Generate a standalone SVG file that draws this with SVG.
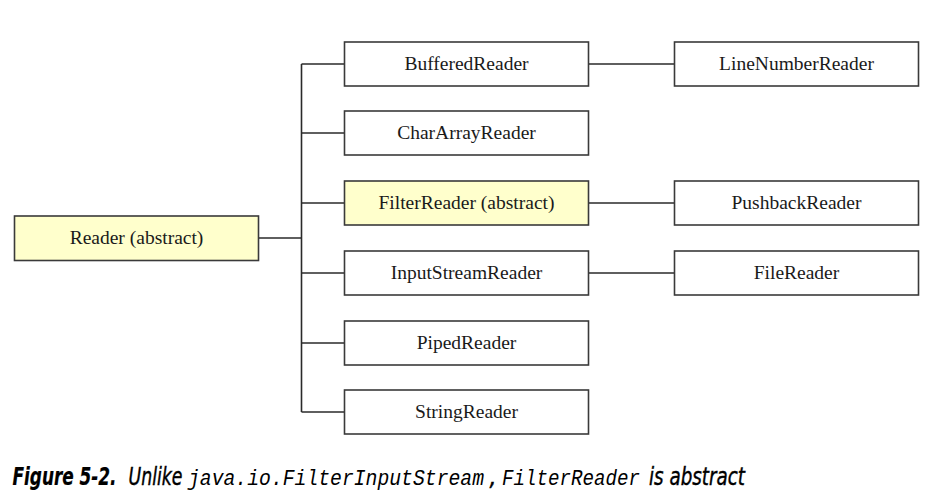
<svg xmlns="http://www.w3.org/2000/svg" width="944" height="495" viewBox="0 0 944 495">
<style>
.box{fill:#ffffff;stroke:#3a3a3a;stroke-width:1.6}
.abs{fill:#ffffcc}
.lbl{font-family:"Liberation Serif","Times New Roman",serif;font-size:19.5px;fill:#1a1a1a;text-anchor:middle}
.con{stroke:#2a2a2a;stroke-width:1.6;fill:none}
.cap{font-family:"Liberation Sans Narrow","DejaVu Sans Condensed","Liberation Sans",sans-serif;font-stretch:condensed;font-style:italic;font-size:24px;fill:#000;stroke:#000;stroke-width:0.4}
.capb{font-weight:bold;stroke-width:0.2}
.mono{font-family:"Liberation Mono","DejaVu Sans Mono",monospace;font-style:italic;font-size:22px;stroke:none}
</style>
<rect width="944" height="495" fill="#ffffff"/>
<g id="connectors">
<line class="con" x1="258.5" y1="238" x2="301.5" y2="238"/>
<line class="con" x1="301.5" y1="64" x2="301.5" y2="412"/>
<line class="con" x1="301.5" y1="64" x2="344.5" y2="64"/>
<line class="con" x1="301.5" y1="133" x2="344.5" y2="133"/>
<line class="con" x1="301.5" y1="203" x2="344.5" y2="203"/>
<line class="con" x1="301.5" y1="273" x2="344.5" y2="273"/>
<line class="con" x1="301.5" y1="343" x2="344.5" y2="343"/>
<line class="con" x1="301.5" y1="412" x2="344.5" y2="412"/>
<line class="con" x1="588.5" y1="64" x2="674.5" y2="64"/>
<line class="con" x1="588.5" y1="203" x2="674.5" y2="203"/>
<line class="con" x1="588.5" y1="273" x2="674.5" y2="273"/>
</g>
<g id="reader"><rect class="box abs" x="14.5" y="216" width="244" height="44.5"/><text class="lbl" x="136.5" y="244">Reader (abstract)</text></g>
<g id="bufferedreader"><rect class="box" x="344.5" y="42" width="244" height="44"/><text class="lbl" x="466.5" y="70">BufferedReader</text></g>
<g id="chararrayreader"><rect class="box" x="344.5" y="111" width="244" height="44"/><text class="lbl" x="466.5" y="139">CharArrayReader</text></g>
<g id="filterreader"><rect class="box abs" x="344.5" y="181" width="244" height="44"/><text class="lbl" x="466.5" y="209">FilterReader (abstract)</text></g>
<g id="inputstreamreader"><rect class="box" x="344.5" y="251" width="244" height="44"/><text class="lbl" x="466.5" y="279">InputStreamReader</text></g>
<g id="pipedreader"><rect class="box" x="344.5" y="321" width="244" height="44"/><text class="lbl" x="466.5" y="349">PipedReader</text></g>
<g id="stringreader"><rect class="box" x="344.5" y="390" width="244" height="44"/><text class="lbl" x="466.5" y="418">StringReader</text></g>
<g id="linenumberreader"><rect class="box" x="674.5" y="42" width="244" height="44"/><text class="lbl" x="796.5" y="70">LineNumberReader</text></g>
<g id="pushbackreader"><rect class="box" x="674.5" y="181" width="244" height="44"/><text class="lbl" x="796.5" y="209">PushbackReader</text></g>
<g id="filereader"><rect class="box" x="674.5" y="251" width="244" height="44"/><text class="lbl" x="796.5" y="279">FileReader</text></g>
<g id="caption">
<text class="cap" y="485"><tspan class="capb" x="12.5" textLength="104" lengthAdjust="spacingAndGlyphs">Figure 5-2.</tspan><tspan x="128.5" textLength="54" lengthAdjust="spacingAndGlyphs">Unlike</tspan><tspan class="mono" x="188" textLength="296" lengthAdjust="spacingAndGlyphs">java.io.FilterInputStream</tspan><tspan x="489.5">,</tspan><tspan class="mono" x="502" textLength="138" lengthAdjust="spacingAndGlyphs">FilterReader</tspan><tspan x="649" textLength="96" lengthAdjust="spacingAndGlyphs">is abstract</tspan></text>
</g>
</svg>
